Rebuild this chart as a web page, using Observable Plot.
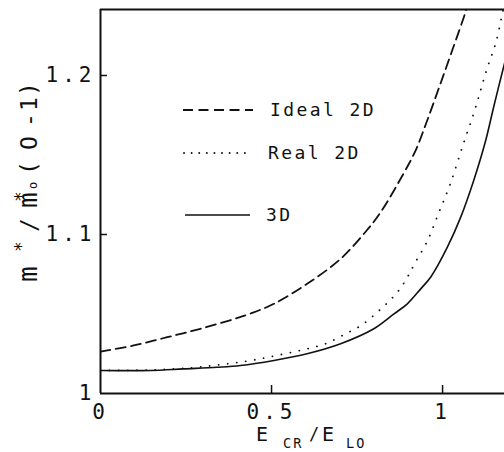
<!DOCTYPE html>
<html><head>
<meta charset="utf-8">
<script src="https://cdn.jsdelivr.net/npm/d3@7"></script>
<script src="https://cdn.jsdelivr.net/npm/@observablehq/plot@0.6"></script>
<style>
body{margin:0;background:#fff}
svg{display:block}
</style>
</head><body><div id="chart"></div>
<script>
// ---- data ----
const seriesNames = ["Ideal 2D", "Real 2D", "3D"];
const idealX = [0, 0.097, 0.195, 0.292, 0.390, 0.439, 0.507, 0.604, 0.702, 0.778, 0.819, 0.886, 0.921, 0.955, 0.990, 1.028, 1.070, 1.082];
const idealY = [1.0264, 1.0302, 1.0354, 1.0407, 1.0468, 1.0503, 1.0564, 1.0690, 1.0847, 1.1025, 1.1140, 1.1384, 1.1528, 1.1717, 1.1926, 1.2157, 1.2420, 1.2522];
const realX = [0, 0.146, 0.268, 0.353, 0.427, 0.482, 0.546, 0.604, 0.658, 0.716, 0.765, 0.809, 0.843, 0.872, 0.897, 0.921, 0.956, 0.988, 1.023, 1.061, 1.091, 1.111, 1.131, 1.155, 1.175, 1.185];
const realY = [1.0145, 1.0148, 1.0162, 1.0182, 1.0203, 1.0225, 1.0253, 1.0281, 1.0313, 1.0375, 1.0432, 1.0511, 1.0579, 1.0648, 1.0731, 1.0827, 1.0962, 1.1132, 1.1321, 1.1572, 1.1761, 1.1906, 1.2050, 1.2201, 1.2390, 1.2480];
const solidX = [0, 0.146, 0.243, 0.341, 0.409, 0.507, 0.604, 0.702, 0.799, 0.858, 0.897, 0.936, 0.965, 1.014, 1.053, 1.091, 1.126, 1.149, 1.178, 1.199];
const solidY = [1.0145, 1.0145, 1.0155, 1.0165, 1.0176, 1.0208, 1.0250, 1.0313, 1.0407, 1.0501, 1.0564, 1.0658, 1.0731, 1.0920, 1.1109, 1.1340, 1.1591, 1.1799, 1.2050, 1.2220];
const xTicks = [0, 0.5, 1];
const xTickLabels = ["0", "0.5", "1"];
const yTicks = [1, 1.1, 1.2];
const yTickLabels = ["1", "1.1", "1.2"];
const xDomain = [0, 1.181];
const yDomain = [1, 1.2415];

const toRows = (xs, ys, s) => xs.map((x, i) => ({series: s, x, y: ys[i]}));
const ideal = toRows(idealX, idealY, seriesNames[0]);
const real = toRows(realX, realY, seriesNames[1]);
const solid = toRows(solidX, solidY, seriesNames[2]);

const W = 504, H = 452, ML = 100, MT = 9, MB = 59, MR = 0;
const ink = "#111";
const font = "'DejaVu Sans Mono', monospace";

const plot = Plot.plot({
  width: W, height: H,
  marginLeft: ML, marginTop: MT, marginBottom: MB, marginRight: MR,
  x: {domain: xDomain},
  y: {domain: yDomain},
  style: {fontFamily: font, color: ink, background: "white", letterSpacing: "4px"},
  marks: [
    Plot.line(ideal, {x: "x", y: "y", stroke: ink, strokeWidth: 1.8, strokeDasharray: "10,5.5", curve: "catmull-rom", clip: true}),
    Plot.line(real, {x: "x", y: "y", stroke: ink, strokeWidth: 1.8, strokeDasharray: "0.1,9", strokeLinecap: "round", curve: "catmull-rom", clip: true}),
    Plot.line(solid, {x: "x", y: "y", stroke: ink, strokeWidth: 1.6, curve: "catmull-rom", clip: true}),
    Plot.ruleX([xDomain[0]], {stroke: ink, strokeWidth: 2}),
    Plot.ruleY([yDomain[0]], {stroke: ink, strokeWidth: 2}),
    Plot.ruleY([yDomain[1]], {stroke: ink, strokeWidth: 2}),
    Plot.tickX(xTicks.slice(1), {x: d => d, stroke: ink, strokeWidth: 1.5, insetTop: (H - MT - MB) - 8}),
    Plot.tickY(yTicks.slice(1), {y: d => d, stroke: ink, strokeWidth: 1.5, insetRight: (W - ML - MR) - 7}),
    Plot.axisX(xTicks, {tickSize: 0, tickPadding: 11, label: null, fontSize: 21, tickFormat: (d, i) => xTickLabels[i]}),
    Plot.axisY(yTicks, {tickSize: 0, tickPadding: 5, label: null, fontSize: 21, tickFormat: (d, i) => yTickLabels[i]})
  ]
});
document.getElementById("chart").appendChild(plot);

// ---- legend and axis titles (text/layout) ----
const svg = d3.select(plot);
const legend = [
  {name: seriesNames[0], dash: "10,5.5", cap: "butt", x1: 183, x2: 253, y: 110, tx: 270},
  {name: seriesNames[1], dash: "0.1,7.5", cap: "round", x1: 184, x2: 252, y: 153, tx: 268},
  {name: seriesNames[2], dash: null, cap: "butt", x1: 185, x2: 250, y: 215, tx: 266}
];
const lg = svg.append("g").attr("text-anchor", "start");
legend.forEach(d => {
  lg.append("line").attr("x1", d.x1).attr("x2", d.x2).attr("y1", d.y).attr("y2", d.y)
    .attr("stroke", ink).attr("stroke-width", d.dash ? 1.8 : 1.6)
    .attr("stroke-dasharray", d.dash).attr("stroke-linecap", d.cap);
  lg.append("text").attr("x", d.tx).attr("y", d.y).attr("dy", "0.36em")
    .attr("font-family", font).attr("font-size", 18).attr("letter-spacing", "2.4px")
    .attr("fill", ink).text(d.name);
});

// x title: E_CR / E_LO
const xt = svg.append("g").attr("font-family", font).attr("fill", ink).attr("text-anchor", "start");
[["E", 256, 441, 20], ["CR", 283, 448, 13.5], ["/", 309, 440, 17], ["E", 322, 441, 20], ["LO", 346, 448, 13.5]]
  .forEach(([t, x, y, fs]) => xt.append("text").attr("x", x).attr("y", y).attr("font-size", fs).attr("letter-spacing", fs < 15 ? "2px" : "0px").text(t));

// y title: m* / m*o (O-1), rotated
const yt = svg.append("g").attr("transform", "translate(37,282) rotate(-90)")
  .attr("font-family", font).attr("fill", ink).attr("text-anchor", "start").attr("letter-spacing", "0px");
[["m", 0, 0, 26], ["*", 30, -10, 18], ["/", 50, 0, 23], ["m", 74, 0, 26], ["*", 80, -10, 18], ["o", 93, 0, 12],
 ["(", 107, 0, 23], ["O", 132, 0, 23], ["-", 155, 0, 23], ["1", 171, 0, 23], [")", 186, 0, 23]]
  .forEach(([t, x, y, fs]) => yt.append("text").attr("x", x).attr("y", y).attr("font-size", fs).text(t));
</script>
</body></html>
